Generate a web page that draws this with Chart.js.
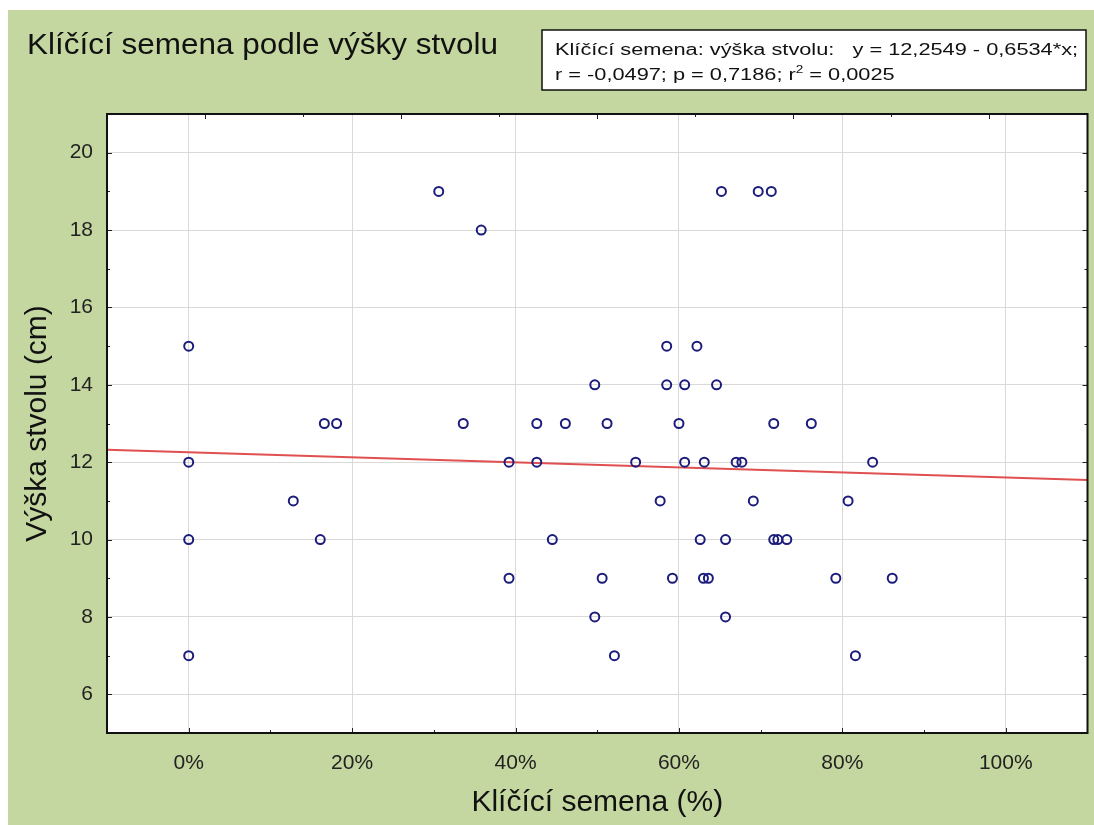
<html>
	<head>
		<script src="https://cdn.jsdelivr.net/npm/chart.js"></script>
		<style>
			body {
				margin: 0;
				background: #fff;
			}
			#wrap {
				position: absolute;
				left: 8px;
				top: 10px;
				width: 1086px;
				height: 815px;
				background: #c5d7a0;
			}
		</style>
	</head>
	<body>
		<div id="wrap"><canvas id="chart" width="1086" height="815"></canvas></div>

		<script>
			const FONT = "'Liberation Sans', Arial, sans-serif";

			// Klíčící semena (%) and výška stvolu (cm)
			const germination = [
				30.6, 65.2, 69.7, 71.3,
				35.8,
				0, 58.5, 62.2,
				49.7, 58.5, 60.7, 64.6,
				16.6, 18.1, 33.6, 42.6, 46.1, 51.2, 60.0, 71.6, 76.2,
				0, 39.2, 42.6, 54.7, 60.7, 63.1, 67.0, 67.7, 83.7,
				12.8, 57.7, 69.1, 80.7,
				0, 16.1, 44.5, 62.6, 65.7, 71.6, 72.1, 73.2,
				39.2, 50.6, 59.2, 63.0, 63.6, 79.2, 86.1,
				49.7, 65.7,
				0, 52.1, 81.6
			];
			const stemHeight = [
				19, 19, 19, 19,
				18,
				15, 15, 15,
				14, 14, 14, 14,
				13, 13, 13, 13, 13, 13, 13, 13, 13,
				12, 12, 12, 12, 12, 12, 12, 12, 12,
				11, 11, 11, 11,
				10, 10, 10, 10, 10, 10, 10, 10,
				9, 9, 9, 9, 9, 9, 9,
				8, 8,
				7, 7, 7
			];

			// regression line ends
			const trendX = [-10, 110];
			const trendY = [12.32, 11.54];

			const xTicks = [0, 20, 40, 60, 80, 100];
			const yTicks = [6, 8, 10, 12, 14, 16, 18, 20];

			const chartTitle = 'Klíčící semena podle výšky stvolu';
			const boxLine1 = 'Klíčící semena: výška stvolu:   y = 12,2549 - 0,6534*x;';
			const boxLine2a = 'r = -0,0497; p = 0,7186; r';
			const boxLine2b = ' = 0,0025';

			const framePlugin = {
				id: 'frame',
				beforeDraw(chart) {
					const { ctx, chartArea: a } = chart;
					ctx.save();
					ctx.fillStyle = '#fff';
					ctx.fillRect(a.left, a.top, a.right - a.left, a.bottom - a.top);
					ctx.restore();
				},
				afterDraw(chart) {
					const { ctx, chartArea: a, scales } = chart;
					const x = scales.x, y = scales.y;
					ctx.save();

					// small inner ticks
					ctx.strokeStyle = '#222';
					ctx.lineWidth = 1;
					ctx.beginPath();
					for (let v = 0; v <= 100; v += 10) {
						const px = Math.round(x.getPixelForValue(v)) + 0.5;
						const len = v % 20 ? 3 : 5;
						ctx.moveTo(px, a.bottom);
						ctx.lineTo(px, a.bottom - len);
					}
					for (let k = 0; k <= 8; k++) {
						const px = Math.round(x.getPixelForValue(2 + 12 * k)) + 0.5;
						const len = k % 2 ? 3 : 5;
						ctx.moveTo(px, a.top);
						ctx.lineTo(px, a.top + len);
					}
					for (let v = 6; v <= 20; v++) {
						const py = Math.round(y.getPixelForValue(v)) + 0.5;
						const len = v % 2 ? 3 : 5;
						ctx.moveTo(a.left, py);
						ctx.lineTo(a.left + len, py);
						ctx.moveTo(a.right, py);
						ctx.lineTo(a.right - len, py);
					}
					ctx.stroke();

					// plot frame
					ctx.strokeStyle = '#111';
					ctx.lineWidth = 2;
					ctx.strokeRect(a.left, a.top, a.right - a.left, a.bottom - a.top);

					// title
					ctx.fillStyle = '#111';
					ctx.textBaseline = 'alphabetic';
					ctx.textAlign = 'left';
					ctx.font = '30px ' + FONT;
					ctx.save();
					ctx.translate(19, 44);
					ctx.scale(1.05, 1);
					ctx.fillText(chartTitle, 0, 0);
					ctx.restore();

					// regression box
					ctx.fillStyle = '#fff';
					ctx.fillRect(534, 20, 544, 60);
					ctx.strokeStyle = '#111';
					ctx.lineWidth = 1.5;
					ctx.strokeRect(534, 20, 544, 60);
					ctx.fillStyle = '#111';
					ctx.save();
					ctx.translate(547, 45);
					ctx.scale(1.36, 1);
					ctx.font = '16px ' + FONT;
					ctx.fillText(boxLine1, 0, 0);
					ctx.fillText(boxLine2a, 0, 25);
					let w = ctx.measureText(boxLine2a).width;
					ctx.font = '10px ' + FONT;
					ctx.fillText('2', w, 18);
					w += ctx.measureText('2').width;
					ctx.font = '16px ' + FONT;
					ctx.fillText(boxLine2b, w, 25);
					ctx.restore();

					ctx.restore();
				}
			};

			const ctx = document.getElementById('chart').getContext('2d');

			const chart = new Chart(ctx, {
				data: {
					datasets: [
						{
							type: 'scatter',
							label: 'Klíčící semena: výška stvolu',
							data: germination.map((g, i) => ({ x: g, y: stemHeight[i] })),
							pointStyle: 'circle',
							pointRadius: 4.5,
							pointBorderWidth: 2,
							pointBorderColor: '#1c1c7c',
							pointBackgroundColor: 'rgba(0,0,0,0)',
							order: 1
						},
						{
							type: 'line',
							label: 'trend',
							data: trendX.map((v, i) => ({ x: v, y: trendY[i] })),
							borderColor: '#e05050',
							borderWidth: 2,
							pointRadius: 0,
							fill: false,
							order: 2
						}
					]
				},
				options: {
					responsive: false,
					animation: false,
					layout: {
						padding: { top: 104, right: 6, left: 0, bottom: 0 }
					},
					plugins: {
						legend: { display: false },
						tooltip: { enabled: false },
						title: { display: false }
					},
					scales: {
						x: {
							type: 'linear',
							min: -10,
							max: 110,
							afterFit: scale => { scale.height = 92; },
							afterBuildTicks: scale => { scale.ticks = xTicks.map(v => ({ value: v })); },
							grid: { color: '#d9d9d9', lineWidth: 1, drawTicks: false },
							border: { display: true, color: '#111', width: 2 },
							ticks: {
								padding: 18,
								color: '#222',
								font: { family: FONT, size: 21 },
								callback: v => v + '%'
							},
							title: {
								display: true,
								text: 'Klíčící semena (%)',
								color: '#111',
								font: { family: FONT, size: 30 },
								padding: { top: 0, bottom: 4 }
							}
						},
						y: {
							type: 'linear',
							min: 5,
							max: 21,
							afterFit: scale => { scale.width = 99; },
							afterBuildTicks: scale => { scale.ticks = yTicks.map(v => ({ value: v })); },
							grid: { color: '#d9d9d9', lineWidth: 1, drawTicks: false },
							border: { display: true, color: '#111', width: 2 },
							ticks: {
								padding: 14,
								color: '#222',
								font: { family: FONT, size: 21 }
							},
							title: {
								display: true,
								text: 'Výška stvolu (cm)',
								color: '#111',
								font: { family: FONT, size: 30 },
								padding: { top: 12, bottom: 0 }
							}
						}
					}
				},
				plugins: [framePlugin]
			});
		</script>
	</body>
</html>
